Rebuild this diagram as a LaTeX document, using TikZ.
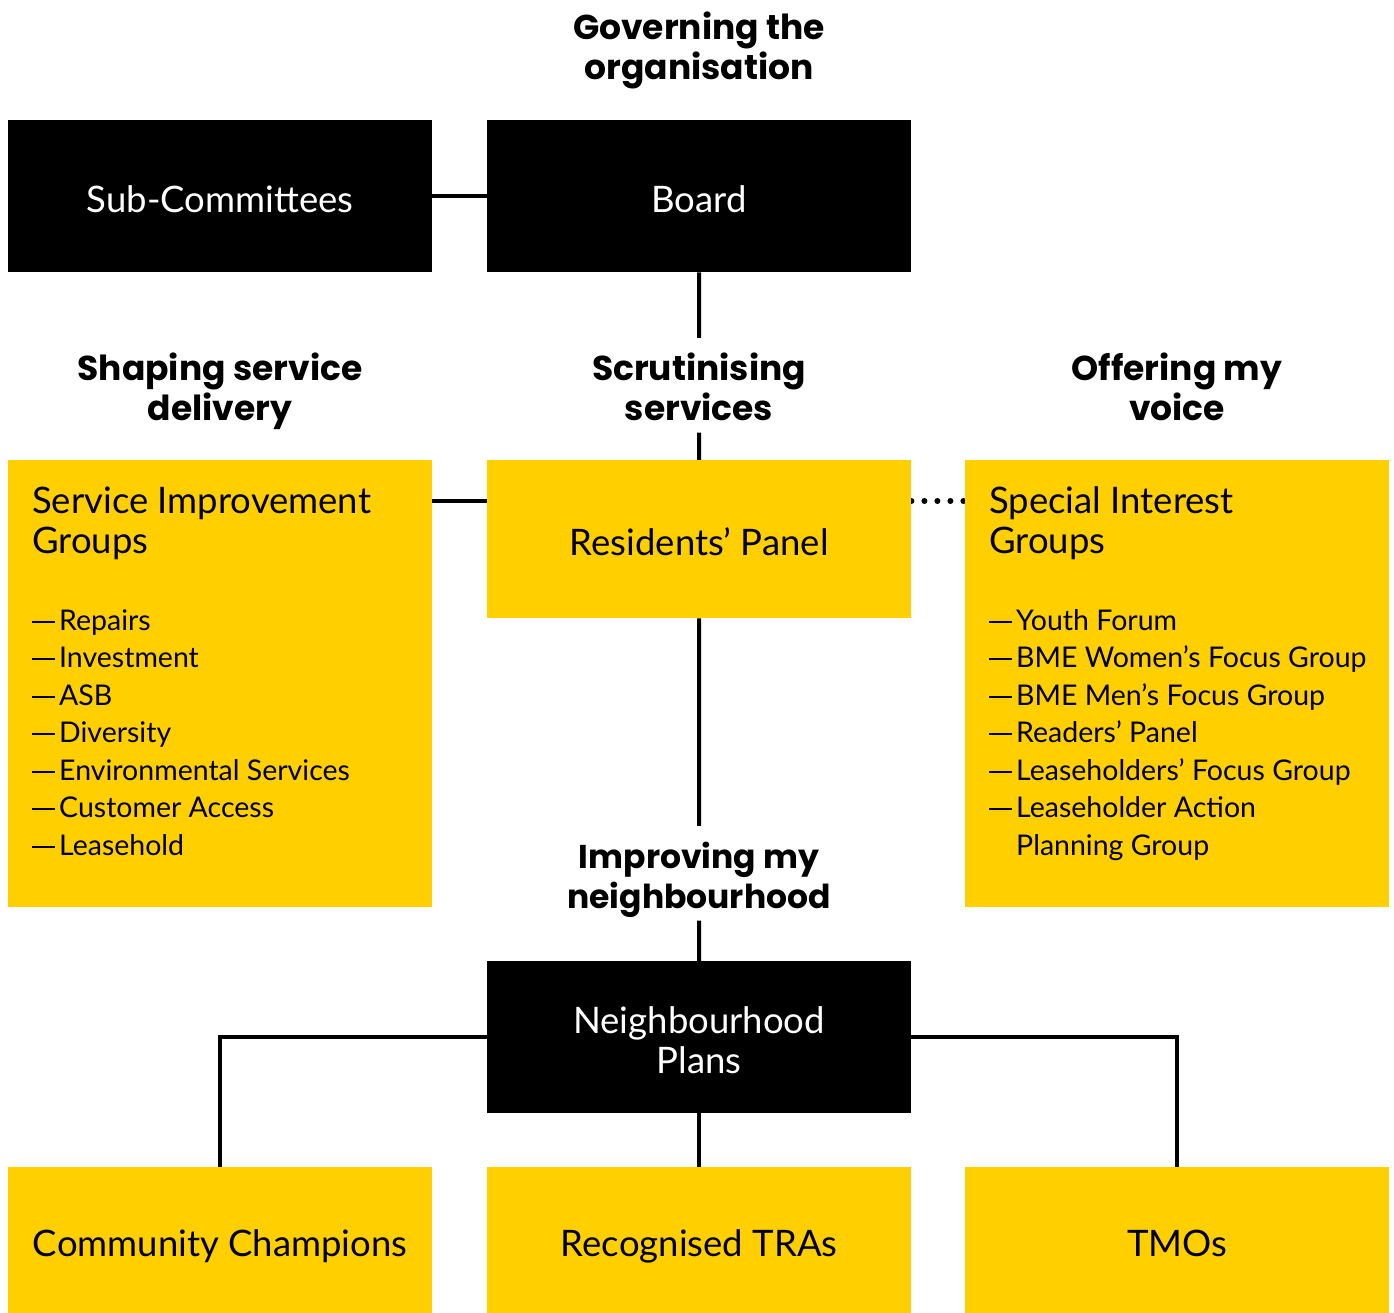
\documentclass[tikz,border=0pt]{standalone}
\usepackage{fontspec}
\setmainfont{Lato}
\newfontfamily\headfont{Poppins}
\usetikzlibrary{backgrounds}
\definecolor{brandyellow}{RGB}{255,207,0}
\newcommand\itemdash{\rule[7.5pt]{23pt}{2.2pt}\hspace{4pt}}
\begin{document}
\begin{tikzpicture}[x=1pt,y=-1pt,
  box/.style={draw=none, minimum width=424pt, inner sep=0pt, anchor=north west},
  blackbox/.style={box, fill=black, text=white},
  yellowbox/.style={box, fill=brandyellow},
  boxtext/.style={font=\fontsize{36.5}{40}\selectfont, align=center, text height=32.2pt, text depth=0pt},
  boxtexttwo/.style={font=\fontsize{36.5}{40}\selectfont, align=center},
  head/.style={font=\headfont\bfseries\fontsize{34.5}{40}\selectfont, align=center, inner sep=0pt},
  conn/.style={line width=4pt},
  dotconn/.style={line width=6pt, line cap=round, dash pattern=on 0pt off 13pt},
  titletext/.style={font=\fontsize{36.5}{40}\selectfont, align=left, inner sep=0pt, anchor=north west},
  listtext/.style={font=\fontsize{28.5}{37.5}\selectfont, align=left, inner sep=0pt, anchor=north west},
]
\useasboundingbox (0,0) rectangle (1394,1313);

% headings
\node[head] (gov) at (699,51.5) {\strut Governing the\\\strut organisation};
\node[head] (shape) at (220,392.5) {\strut Shaping service\\\strut delivery};
\node[head] (scrut) at (699,392.5) {\strut Scrutinising\\\strut services};
\node[head] (offer) at (1177,392.5) {\strut Offering my\\\strut voice};
\node[head, font=\headfont\bfseries\fontsize{33}{40}\selectfont] (impr) at (699,880.5) {\strut Improving my\\\strut neighbourhood};

% top row
\node[blackbox, boxtext, minimum height=152pt] (sub) at (8,120) {Sub-Committees};
\node[blackbox, boxtext, minimum height=152pt] (board) at (487,120) {Board};

% middle row
\node[yellowbox, minimum height=447pt] (sig) at (8,460) {};
\node[titletext] (sigtitle) at (32,485) {\strut Service Improvement\\\strut Groups};
\node[listtext] (siglist) at (32,604) {\strut\itemdash Repairs\\\strut\itemdash Investment\\\strut\itemdash ASB\\\strut\itemdash Diversity\\\strut\itemdash Environmental Services\\\strut\itemdash Customer Access\\\strut\itemdash Leasehold};

\node[yellowbox, boxtext, minimum height=158pt] (rp) at (487,460) {Residents’ Panel};

\node[yellowbox, minimum height=447pt] (spig) at (965,460) {};
\node[titletext] (spigtitle) at (989,485) {\strut Special Interest\\\strut Groups};
\node[listtext] (spiglist) at (989,604) {\strut\itemdash Youth Forum\\\strut\itemdash BME Women’s Focus Group\\\strut\itemdash BME Men’s Focus Group\\\strut\itemdash Readers’ Panel\\\strut\itemdash Leaseholders’ Focus Group\\\strut\itemdash Leaseholder Action\\\strut\hphantom{\itemdash}Planning Group};

% neighbourhood
\node[blackbox, boxtexttwo, minimum height=152pt] (np) at (487,961) {\rule{0pt}{44pt}Neighbourhood\\\strut Plans};

\node[yellowbox, boxtext, minimum height=146pt] (cc) at (8,1167) {Community Champions};
\node[yellowbox, boxtext, minimum height=146pt] (tra) at (487,1167) {Recognised TRAs};
\node[yellowbox, boxtext, minimum height=146pt] (tmo) at (965,1167) {TMOs};

\begin{scope}[on background layer]
\draw[conn] (sub.east) -- (board.west);
\draw[conn] (board.south) -- ([yshift=14.5pt]scrut.north);
\draw[conn] (scrut.south) -- (rp.north);
\draw[conn] ([yshift=-41pt]sig.north east) -- ([yshift=-41pt]rp.north west);
\draw[dotconn] ([yshift=-41pt]rp.north east) -- ([yshift=-41pt]spig.north west);
\draw[conn] (rp.south) -- ([yshift=14.5pt]impr.north);
\draw[conn] (impr.south) -- (np.north);
\draw[conn] (np.west) -| (cc.north);
\draw[conn] (np.east) -| (tmo.north);
\draw[conn] (np.south) -- (tra.north);
\end{scope}
\end{tikzpicture}
\end{document}
